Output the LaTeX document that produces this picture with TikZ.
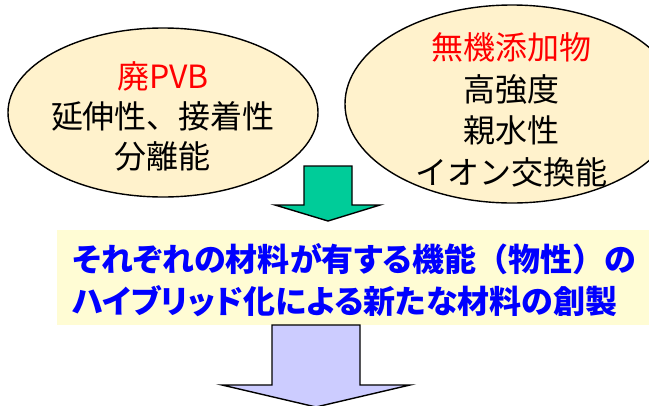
\documentclass[tikz,border=0pt]{standalone}
\usepackage{fontspec}
\newfontfamily\jp{Noto Sans CJK JP}
\newfontfamily\jpp{Noto Sans CJK JP}[RawFeature=+palt]
\usetikzlibrary{shapes.geometric}
\definecolor{ellfill}{RGB}{255,242,204}
\definecolor{boxfill}{RGB}{255,252,212}
\definecolor{arrgreen}{RGB}{0,204,153}
\definecolor{arrpurple}{RGB}{204,204,255}
\definecolor{redtxt}{RGB}{255,0,0}
\definecolor{bluetxt}{RGB}{0,0,255}
\newcommand{\fwp}[1]{{\jp\bfseries #1}}
\tikzset{
  ellbox/.style={draw=black, line width=1.4pt, fill=ellfill, ellipse, inner sep=0pt},
  elltext/.style={align=center, font=\jp\fontsize{32}{40}\selectfont},
  hybox/.style={fill=boxfill, draw=none, rectangle, inner sep=0pt},
  hytext/.style={align=left, anchor=west, text=bluetxt, font=\jpp\bfseries\fontsize{32}{42}\selectfont},
  blockarrow/.style={draw=black, line width=1.4pt, line join=miter}
}
\begin{document}
\begin{tikzpicture}[x=1pt,y=-1pt]
\useasboundingbox (0,0) rectangle (649,405);
% ellipses
\node[ellbox, minimum width=310pt, minimum height=169pt] (pvb) at (163,112.5) {};
\node[ellbox, minimum width=334pt, minimum height=198pt] (inorg) at (512,104) {};
\node[elltext] (pvbtext) at (163,116) {{\color{redtxt}廃PVB}\\延伸性、接着性\\分離能};
\node[elltext, font=\jp\fontsize{32}{41.5}\selectfont] (inorgtext) at (511,110) {{\color{redtxt}無機添加物}\\高強度\\親水性\\イオン交換能};
% green arrow
\draw[blockarrow, fill=arrgreen] (304,166) -- (352,166) -- (352,205) -- (380,205) -- (328,221) -- (275,205) -- (304,205) -- cycle;
% hybrid box
\node[hybox, minimum width=592pt, minimum height=95pt] (hybox) at (353,277.5) {};
\node[hytext] (hytext) at (69,280) {それぞれの材料が有する機能\fwp{（}物性\fwp{）}の\\ハイブリッド化による新たな材料の創製};
% purple arrow
\draw[blockarrow, fill=arrpurple] (272,325) -- (360,325) -- (360,385) -- (410,385) -- (316,407) -- (222,385) -- (272,385) -- cycle;
\end{tikzpicture}
\end{document}
